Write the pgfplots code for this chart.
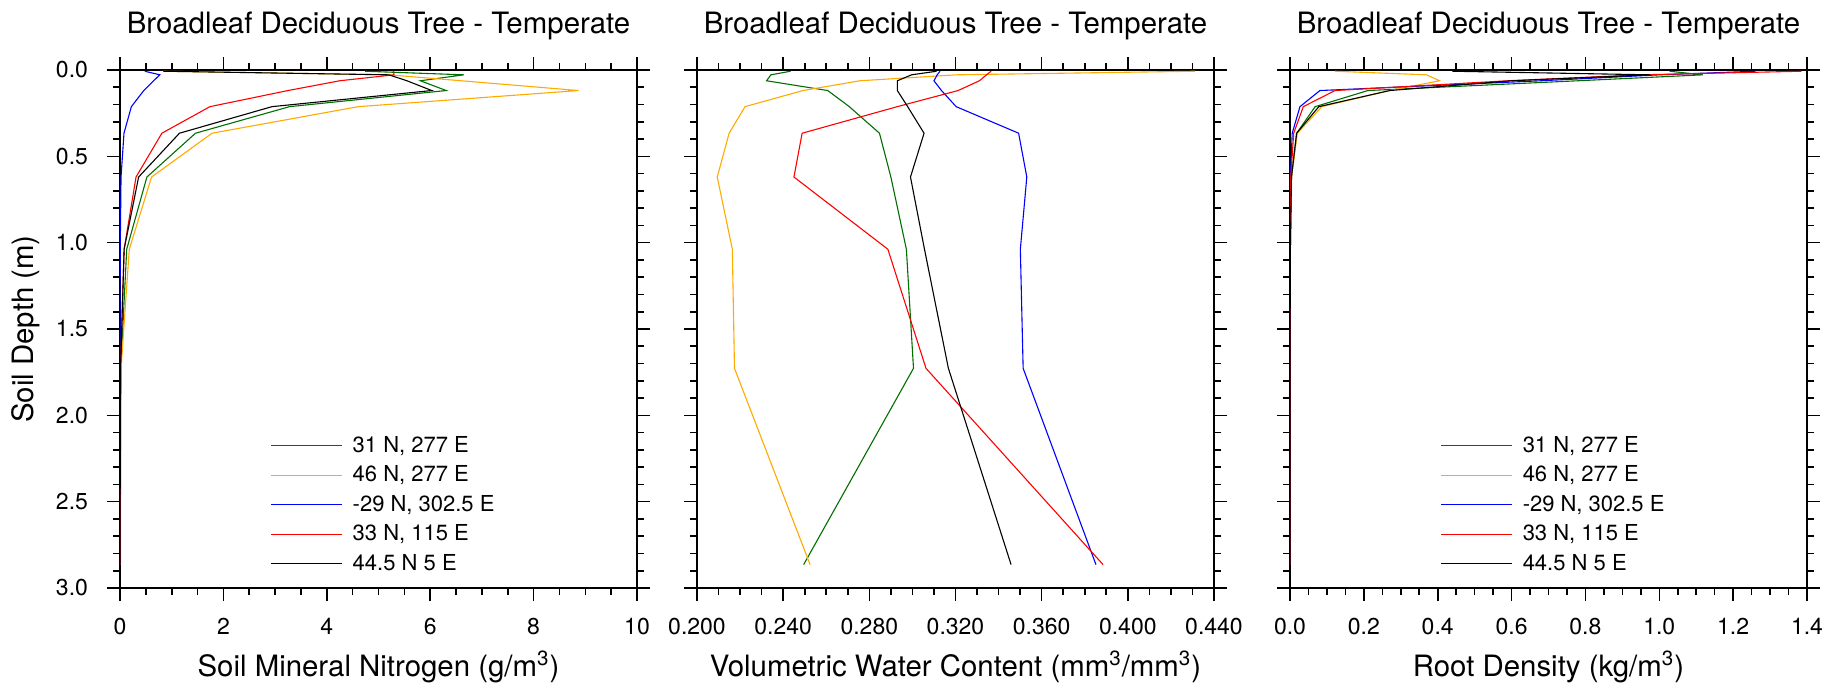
\documentclass[border=0pt]{standalone}
\usepackage{fontspec}
\setmainfont{TeX Gyre Heros}
\usepackage{pgfplots}
\usepackage{pgfplotstable}
\pgfplotsset{compat=1.18}
\definecolor{cgreen}{RGB}{0,110,0}
\definecolor{corange}{RGB}{255,170,0}
\definecolor{cblue}{RGB}{0,0,255}
\definecolor{cred}{RGB}{255,0,0}

% Soil mineral nitrogen (g/m3)
\pgfplotstableread{
d      g      o      b      r      k
0.0071 4.74   0.84   0.48   5.29   0.84
0.0279 6.65   5.20   0.77   5.30   5.20
0.0623 5.81   6.60   0.65   4.25   5.55
0.1189 6.31   8.87   0.46   3.25   6.03
0.2122 3.28   4.61   0.22   1.74   2.94
0.3661 1.46   1.78   0.077  0.81   1.15
0.6198 0.52   0.61   0.02   0.31   0.36
1.0380 0.13   0.18   0.005  0.08   0.08
1.7276 0.015  0.02   0.0    0.01   0.01
2.8646 0.0    0.01   0.0    0.0    0.0
}\tabN

% Volumetric water content
\pgfplotstableread{
d      g       o       b       r       k
0.0071 0.2434  0.4312  0.3128  0.3365  0.3112
0.0279 0.2343  0.3203  0.3115  0.3344  0.2996
0.0623 0.2323  0.2756  0.3100  0.3311  0.2930
0.1189 0.2607  0.2492  0.3135  0.3212  0.2930
0.2122 0.2707  0.2223  0.3203  0.2930  0.2978
0.3661 0.2847  0.2149  0.3493  0.2488  0.3054
0.6198 0.2900  0.2094  0.3531  0.2450  0.2991
1.0380 0.2972  0.2164  0.3501  0.2886  0.3056
1.7276 0.3005  0.2174  0.3514  0.3063  0.3167
2.8646 0.2495  0.2525  0.3852  0.3885  0.3458
}\tabW

% Root density (kg/m3)
\pgfplotstableread{
d      g      o      b      r      k
0.0071 1.028  0.122  1.26   1.385  0.44
0.0279 1.118  0.37   1.00   0.95   0.975
0.0623 0.78   0.405  0.68   0.59   0.60
0.1189 0.211  0.27   0.081  0.122  0.27
0.2122 0.068  0.086  0.027  0.036  0.078
0.3661 0.018  0.02   0.006  0.01   0.018
0.6198 0.004  0.004  0.001  0.002  0.004
1.0380 0.001  0.001  0.0    0.0    0.001
1.7276 0.0    0.0    0.0    0.0    0.0
2.8646 0.0    0.0    0.0    0.0    0.0
}\tabR

\pgfplotsset{
  panel/.style={
    scale only axis, width=258.5pt, height=259pt,
    anchor=south west,
    y dir=reverse, ymin=0, ymax=3, ytick={0,0.5,1,1.5,2,2.5,3}, minor y tick num=4,
    tick align=outside, major tick length=6.5pt, minor tick length=3.5pt,
    every tick/.style={black, line width=0.8pt},
    axis line style={line width=1pt},
    /pgf/number format/assume math mode=true,
    tick label style={font=\fontsize{11.5}{13}\selectfont},
    yticklabel style={xshift=-6pt, /pgf/number format/.cd, fixed, fixed zerofill, precision=1},
    xticklabel style={yshift=-5.2pt},
    every axis title shift=0pt,
    title style={font=\fontsize{14.7}{17}\selectfont, at={(axis description cs:0.5,1)}, anchor=base, yshift=18.5pt},
    xlabel style={font=\fontsize{14.7}{17}\selectfont, at={(axis description cs:0.5,0)}, anchor=base, yshift=-44pt},
    ylabel style={font=\fontsize{14.7}{17}\selectfont},
    title={Broadleaf Deciduous Tree - Temperate},
    every axis plot/.append style={line width=0.55pt, no markers},
    legend image code/.code={\draw[##1, line width=0.55pt] (0pt,0pt) -- (35.5pt,0pt);},
    legend cell align=left,
    legend style={draw=none, fill=none, at={(axis description cs:0.279,0.309)}, anchor=north west,
      font=\fontsize{11}{13}\selectfont, row sep=1.2pt,
      /tikz/every odd column/.append style={column sep=3pt}},
  }
}

\begin{document}
\begin{tikzpicture}
\useasboundingbox (0,0) rectangle (918.5pt,343.5pt);

\begin{axis}[panel, at={(60pt,49.5pt)},
  xmin=0, xmax=10, xtick={0,2,4,6,8,10}, minor x tick num=3,
  xlabel={Soil Mineral Nitrogen (g/m\textsuperscript{3})},
  ylabel={Soil Depth (m)},
  ylabel style={at={(axis description cs:-0.182,0.5)}, anchor=center},
]
\addplot[cgreen]  table[x=g, y=d] {\tabN};
\addplot[corange] table[x=o, y=d] {\tabN};
\addplot[cblue]   table[x=b, y=d] {\tabN};
\addplot[cred]    table[x=r, y=d] {\tabN};
\addplot[black]   table[x=k, y=d] {\tabN};
\legend{{31 N, 277 E}, {46 N, 277 E}, {-29 N, 302.5 E}, {33 N, 115 E}, {44.5 N 5 E}}
\end{axis}

\begin{axis}[panel, at={(348.5pt,49.5pt)},
  xmin=0.2, xmax=0.44, xtick={0.2,0.24,0.28,0.32,0.36,0.40,0.44}, minor x tick num=3,
  xticklabel style={/pgf/number format/.cd, fixed, fixed zerofill, precision=3},
  yticklabels={},
  xlabel={Volumetric Water Content (mm\textsuperscript{3}/mm\textsuperscript{3})},
]
\addplot[cgreen]  table[x=g, y=d] {\tabW};
\addplot[corange] table[x=o, y=d] {\tabW};
\addplot[cblue]   table[x=b, y=d] {\tabW};
\addplot[cred]    table[x=r, y=d] {\tabW};
\addplot[black]   table[x=k, y=d] {\tabW};
\end{axis}

\begin{axis}[panel, at={(645pt,49.5pt)},
  xmin=0, xmax=1.4, xtick={0,0.2,0.4,0.6,0.8,1.0,1.2,1.4}, minor x tick num=3,
  xticklabel style={/pgf/number format/.cd, fixed, fixed zerofill, precision=1},
  yticklabels={},
  xlabel={Root Density (kg/m\textsuperscript{3})},
]
\addplot[cgreen]  table[x=g, y=d] {\tabR};
\addplot[corange] table[x=o, y=d] {\tabR};
\addplot[cblue]   table[x=b, y=d] {\tabR};
\addplot[cred]    table[x=r, y=d] {\tabR};
\addplot[black]   table[x=k, y=d] {\tabR};
\legend{{31 N, 277 E}, {46 N, 277 E}, {-29 N, 302.5 E}, {33 N, 115 E}, {44.5 N 5 E}}
\end{axis}
\end{tikzpicture}
\end{document}
